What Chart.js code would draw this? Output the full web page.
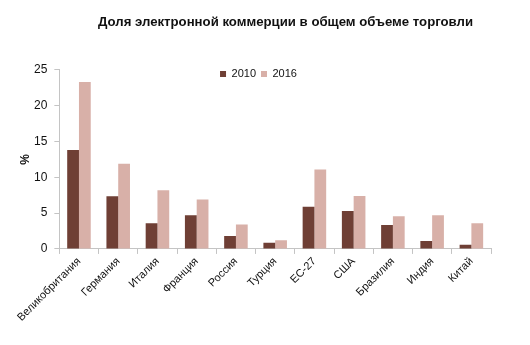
<!DOCTYPE html>
<html>
<head>
<meta charset="utf-8">
<script src="https://cdn.jsdelivr.net/npm/chart.js@4/dist/chart.umd.min.js"></script>
<style>
  html, body { margin: 0; padding: 0; background: #fff; }
  #wrap { width: 530px; height: 345px; }
</style>
</head>
<body>
<div id="wrap"><canvas id="chart"></canvas></div>
<script>
// данные графика
const countries = ["Великобритания", "Германия", "Италия", "Франция", "Россия", "Турция", "ЕС-27", "США", "Бразилия", "Индия", "Китай"];
const share2010 = [13.8, 7.35, 3.6, 4.7, 1.8, 0.85, 5.9, 5.3, 3.35, 1.1, 0.6];
const share2016 = [23.3, 11.9, 8.2, 6.9, 3.4, 1.2, 11.1, 7.4, 4.55, 4.7, 3.6];
const yTicks = [0, 5, 10, 15, 20, 25];

const axisGray = "#c4c4c4";

// сдвиг заголовка и легенды, как на исходной картинке
const nudgePlugin = {
    id: "nudge",
    afterLayout(chart) {
        const t = chart.titleBlock;
        if (t) { t.left += 34; t.right += 34; }
        const l = chart.legend;
        if (l) {
            const dy = 63.5 - l.top;
            l.left += 7; l.right += 7;
            l.top += dy; l.bottom += dy;
        }
    }
};

new Chart(document.getElementById("chart").getContext("2d"), {
    type: "bar",
    data: {
        labels: countries,
        datasets: [
            { label: "2010", data: share2010, backgroundColor: "#6f3f35" },
            { label: "2016", data: share2016, backgroundColor: "#d8b0a8" }
        ]
    },
    options: {
        responsive: true,
        maintainAspectRatio: false,
        animation: false,
        layout: { padding: { left: 12, right: 39, top: 0, bottom: 20 } },
        datasets: { bar: { categoryPercentage: 0.6, barPercentage: 1 } },
        plugins: {
            title: {
                display: true,
                text: "Доля электронной коммерции в общем объеме торговли",
                color: "#111",
                font: { family: "Liberation Sans", size: 13.2, weight: "bold" },
                padding: { top: 14, bottom: 14 }
            },
            legend: {
                position: "top",
                align: "center",
                labels: {
                    boxWidth: 6,
                    boxHeight: 6,
                    padding: 5,
                    color: "#111",
                    font: { family: "Liberation Sans", size: 11 }
                }
            },
            tooltip: { enabled: false }
        },
        scales: {
            x: {
                grid: { drawOnChartArea: false, drawTicks: true, tickLength: 5, color: axisGray, offset: true },
                border: { color: axisGray },
                ticks: {
                    autoSkip: false,
                    minRotation: 45,
                    maxRotation: 45,
                    padding: 1,
                    color: "#111",
                    font: { family: "Liberation Sans", size: 11 }
                }
            },
            y: {
                min: 0,
                max: 25,
                afterBuildTicks(scale) { scale.ticks = yTicks.map(v => ({ value: v })); },
                grid: { drawOnChartArea: false, drawTicks: true, tickLength: 5, color: axisGray },
                border: { color: axisGray },
                ticks: {
                    padding: 7,
                    color: "#111",
                    font: { family: "Liberation Sans", size: 12 }
                },
                title: {
                    display: true,
                    text: "%",
                    color: "#111",
                    padding: { top: 8, bottom: -5 },
                    font: { family: "Liberation Sans", size: 12, weight: "bold", lineHeight: 1 }
                }
            }
        }
    },
    plugins: [nudgePlugin]
});
</script>
</body>
</html>
